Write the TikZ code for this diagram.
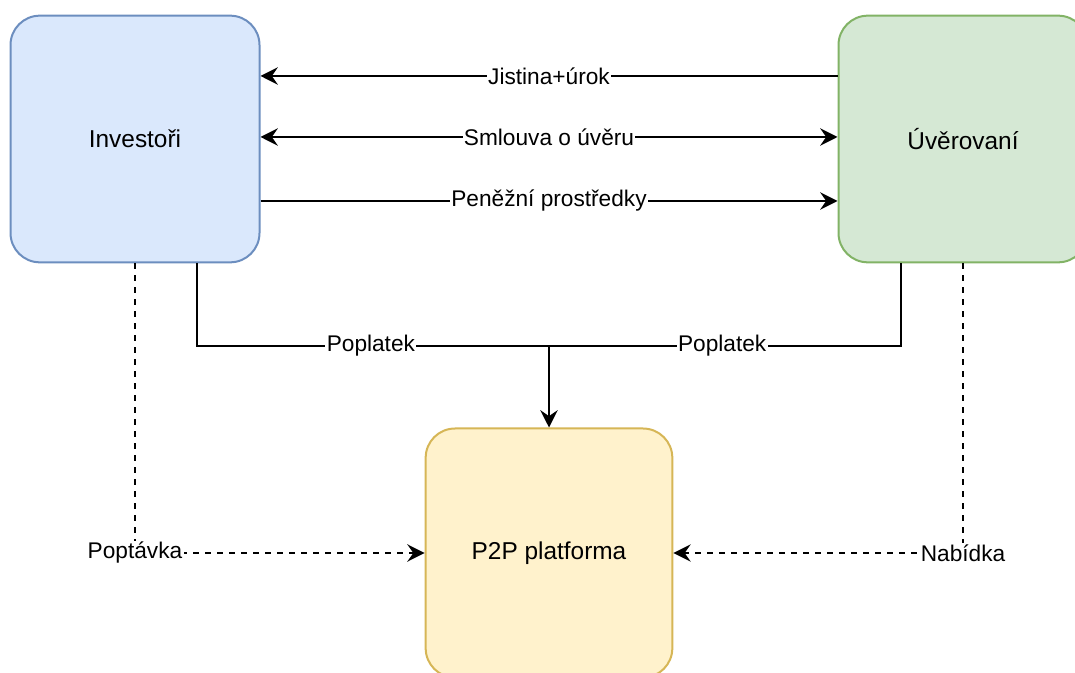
\documentclass[tikz,border=0pt]{standalone}
\usepackage{fontspec}
\setmainfont{Liberation Sans}
\usetikzlibrary{arrows.meta}
\definecolor{invfill}{HTML}{DAE8FC}
\definecolor{invline}{HTML}{6C8EBF}
\definecolor{uvfill}{HTML}{D5E8D4}
\definecolor{uvline}{HTML}{82B366}
\definecolor{pfill}{HTML}{FFF2CC}
\definecolor{pline}{HTML}{D6B656}
\begin{document}
\begin{tikzpicture}[x=0.75pt,y=-0.75pt,
  >={Stealth[length=13pt,width=13pt,inset=4.5pt]},
  box/.style={draw, line width=1.5pt, rounded corners=22pt, minimum width=186.75pt, minimum height=185pt, font=\fontsize{18.3}{22}\selectfont},
  lbl/.style={fill=white, inner sep=1pt, font=\fontsize{17}{20}\selectfont},
  conn/.style={line width=1.5pt},
  dashline/.style={conn, dash pattern=on 4.5pt off 4.5pt}]
\clip (0,0) rectangle (1075,673);
\node[box, fill=invfill, draw=invline] (inv) at (135,139) {Investoři};
\node[box, fill=uvfill, draw=uvline] (uv) at (963,139) {Úvěrovaní};
\node[box, fill=pfill, draw=pline, minimum width=185pt, minimum height=186.75pt] (p2p) at (549,553) {P2P platforma};
\coordinate (fee) at (549,346);
\path[draw,conn,->] ([yshift=47.25pt]uv.west) -- ([yshift=47.25pt]inv.east) node[lbl,midway] {Jistina+úrok};
\path[draw,conn,<->] ([yshift=1.5pt]inv.east) -- ([yshift=1.5pt]uv.west) node[lbl,midway] {Smlouva o úvěru};
\path[draw,conn,->] ([yshift=-46.5pt]inv.east) -- ([yshift=-46.5pt]uv.west) node[lbl,midway] {Peněžní prostředky};
\path[draw,conn] ([xshift=46.5pt]inv.south) |- (fee) node[lbl,pos=0.747] {Poplatek};
\path[draw,conn] ([xshift=-46.5pt]uv.south) |- (fee) node[lbl,pos=0.754] {Poplatek};
\path[draw,conn,->] (fee) -- (p2p);
\path[draw,dashline,->] (inv.south) |- (p2p.west) node[lbl,pos=0.5] {Poptávka};
\path[draw,dashline,->] (uv.south) |- (p2p.east) node[lbl,pos=0.5] {Nabídka};
\end{tikzpicture}
\end{document}
